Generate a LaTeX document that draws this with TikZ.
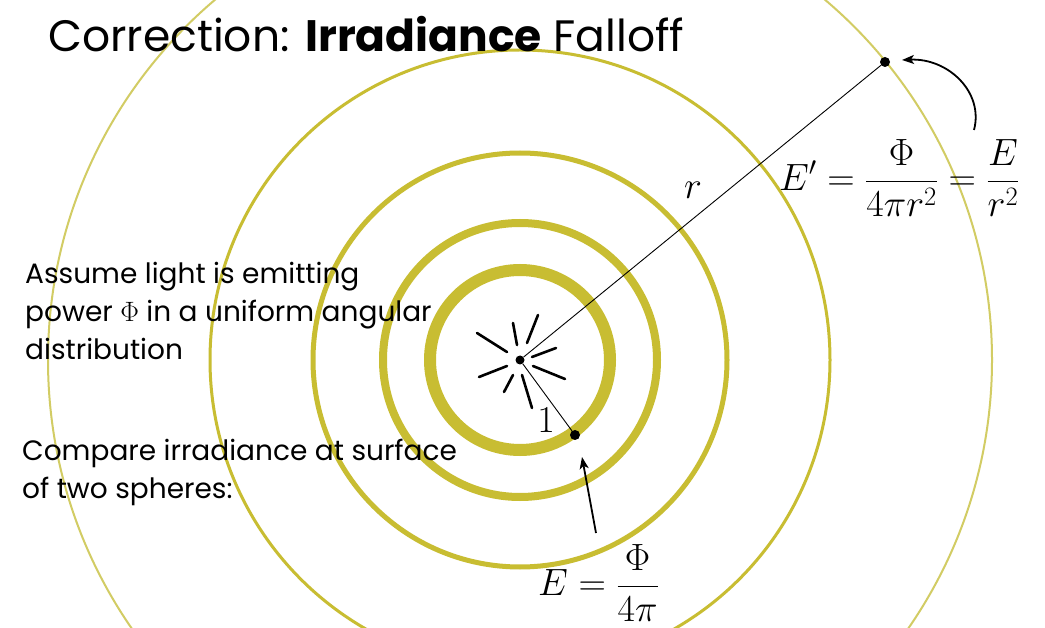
\RequirePackage{fix-cm}
\documentclass[tikz,border=0pt]{standalone}
\usepackage{amsmath}
\usepackage{fontspec}
\setmainfont{Poppins}
\usepackage{tikz}
\usetikzlibrary{arrows.meta}

\definecolor{ringgold}{RGB}{200,189,50}
\definecolor{ringpale}{RGB}{210,204,100}

\begin{document}
\begin{tikzpicture}[x=1pt,y=-1pt,>={Stealth[length=12pt,width=9pt,inset=3pt]},
    ring/.style={draw=ringgold},
    ray/.style={line width=2.6pt,line cap=round},
    spoke/.style={line width=0.9pt},
    pointer/.style={->,line width=1.8pt},
    dot/.style={circle,fill=black,inner sep=0pt,minimum size=#1},
    mathlbl/.style={inner sep=0pt,font=\fontsize{38}{44}\selectfont},
    body/.style={align=left,inner sep=0pt,font=\fontsize{28}{38}\selectfont}]
    \fill[white] (0,0) rectangle (1045,628);
    \useasboundingbox (0,0) rectangle (1045,628);
    \coordinate (src) at (520,360);
    % the spheres
    \begin{scope}
        \clip (0,0) rectangle (1045,628);
        \draw[ring,line width=12pt] (src) circle[radius=90];
        \draw[ring,line width=8pt] (src) circle[radius=137];
        \draw[ring,line width=5pt] (src) circle[radius=207];
        \draw[ring,line width=3pt] (src) circle[radius=310];
        \draw[draw=ringpale,line width=2pt] (src) circle[radius=472];
    \end{scope}
    % the light
    \foreach \xa/\ya/\xb/\yb in {477/333/507/352, 513/323/517/345, 538/315/527/343,
        532/357/556/348, 533/366/565/379, 522/375/532/408, 513/375/504/392, 507/366/479/377}
        \draw[ray] (\xa,\ya) -- (\xb,\yb);
    \node[dot=9pt] (center) at (src) {};
    \node[dot=10pt] (near) at (575,435) {};
    \node[dot=10pt] (far) at (885,62) {};
    \draw[spoke] (center) -- (near);
    \draw[spoke] (center) -- (far);
    \node[mathlbl] (one) at (546,420) {$1$};
    \node[mathlbl] (rlbl) at (693,190) {$r$};
    % formulas
    \node[mathlbl,anchor=west] (eprime) at (779,178) {$\displaystyle E' = \frac{\Phi}{4\pi r^2} = \frac{E}{r^2}$};
    \node[mathlbl,anchor=west] (eone) at (538,583) {$\displaystyle E = \frac{\Phi}{4\pi}$};
    \coordinate (tailA) at (596,533);
    \coordinate (tipA) at (582,457);
    \draw[pointer] (tailA) -- (tipA);
    \coordinate (tailB) at (974,130);
    \coordinate (tipB) at (902,60);
    \draw[pointer] (tailB) .. controls (984,92) and (948,58) .. (tipB);
    % text
    \node[anchor=base west,inner sep=0pt,font=\fontsize{44}{52}\selectfont] (title) at (48,52)
        {Correction: \textbf{Irradiance} Falloff};
    \node[body,anchor=north west] (assume) at (25,262)
        {Assume light is emitting\\ power $\Phi$ in a uniform angular\\ distribution};
    \node[body,anchor=north west] (compare) at (22,439)
        {Compare irradiance at surface\\ of two spheres:};
\end{tikzpicture}
\end{document}
